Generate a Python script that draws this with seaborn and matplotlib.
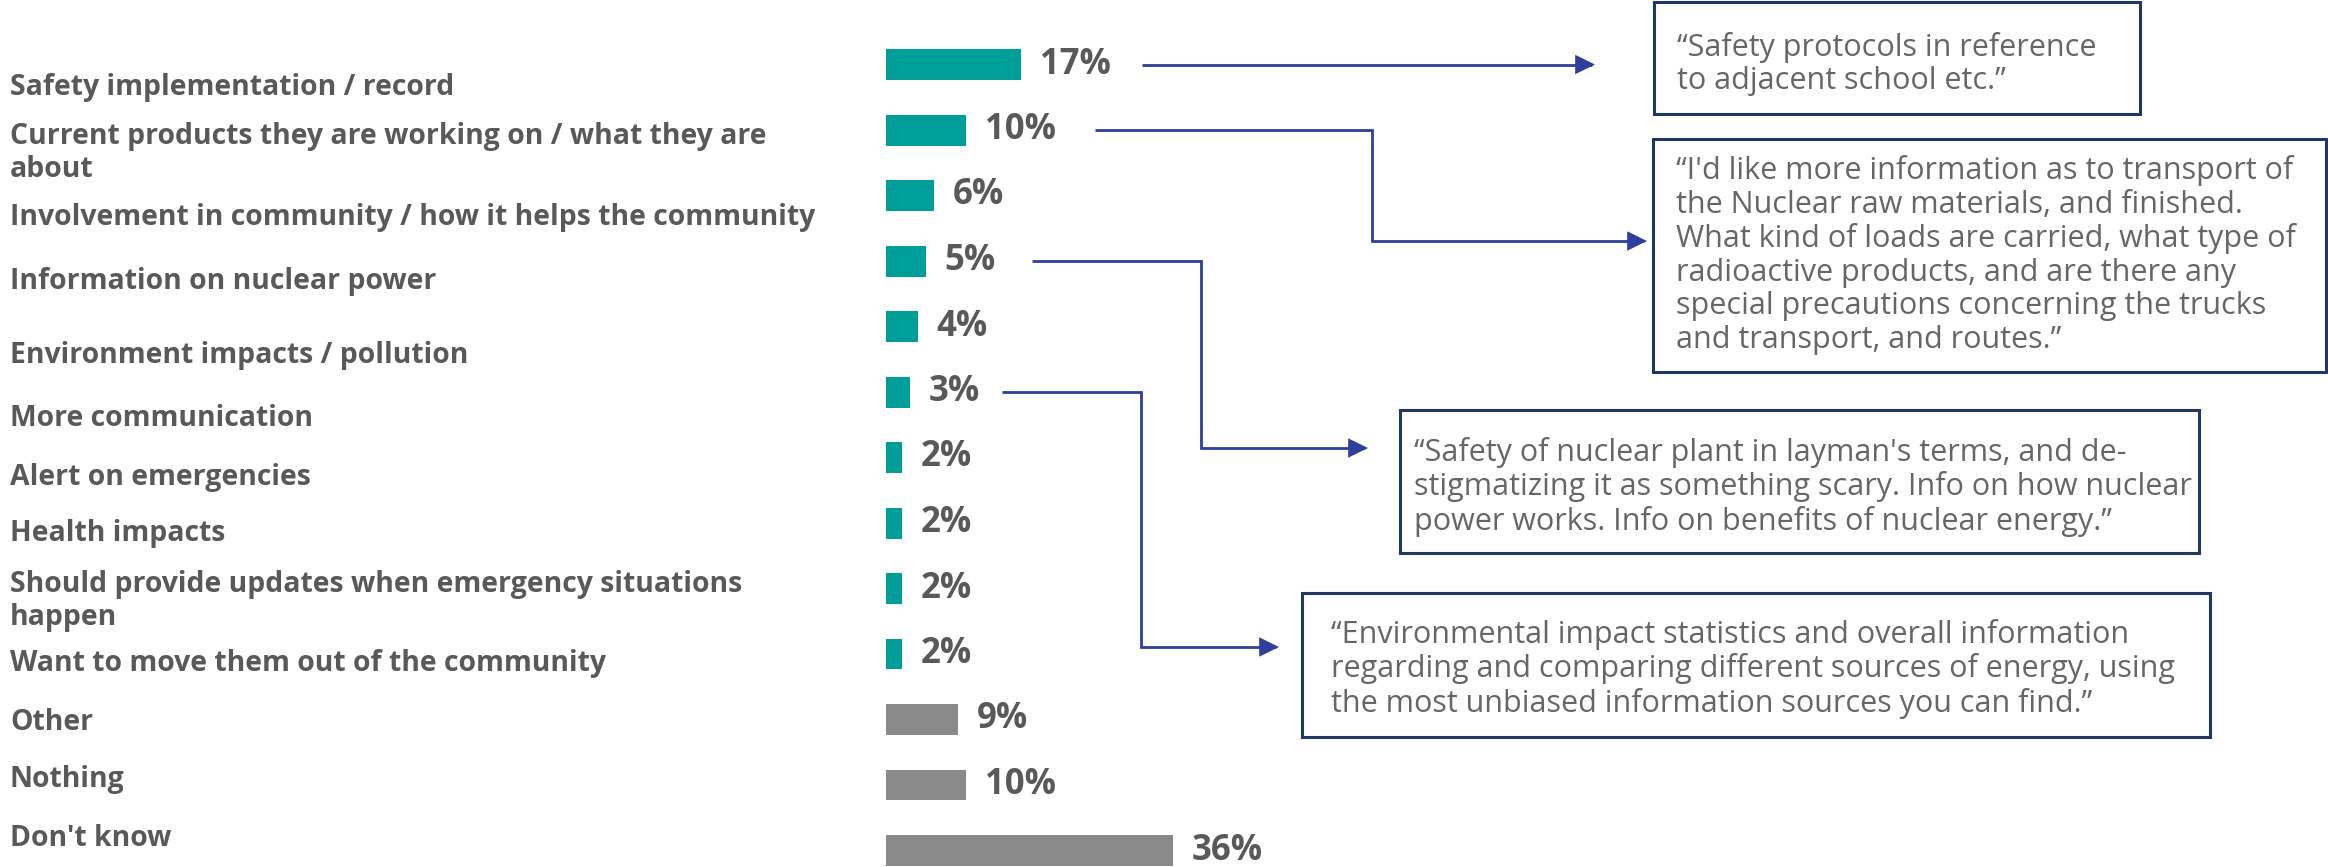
import matplotlib
matplotlib.use("Agg")
import matplotlib.pyplot as plt
from matplotlib.patches import Rectangle, FancyArrowPatch
from matplotlib.path import Path
import seaborn as sns
import pandas as pd

# ---- data -------------------------------------------------------------
categories = [
    "Safety implementation / record",
    "Current products they are working on / what they are\nabout",
    "Involvement in community / how it helps the community",
    "Information on nuclear power",
    "Environment impacts / pollution",
    "More communication",
    "Alert on emergencies",
    "Health impacts",
    "Should provide updates when emergency situations\nhappen",
    "Want to move them out of the community",
    "Other",
    "Nothing",
    "Don't know",
]
values = [17, 10, 6, 5, 4, 3, 2, 2, 2, 2, 9, 10, 36]
groups = ["topic"] * 10 + ["none"] * 3
value_labels = [f"{v}%" for v in values]

quotes = [
    "\u201cSafety protocols in reference\nto adjacent school etc.\u201d",
    "\u201cI'd like more information as to transport of\n"
    "the Nuclear raw materials, and finished.\n"
    "What kind of loads are carried, what type of\n"
    "radioactive products, and are there any\n"
    "special precautions concerning the trucks\n"
    "and transport, and routes.\u201d",
    "\u201cSafety of nuclear plant in layman's terms, and de-\n"
    "stigmatizing it as something scary. Info on how nuclear\n"
    "power works. Info on benefits of nuclear energy.\u201d",
    "\u201cEnvironmental impact statistics and overall information\n"
    "regarding and comparing different sources of energy, using\n"
    "the most unbiased information sources you can find.\u201d",
]
quote_rows = [0, 1, 3, 5]          # bar each quote is linked to

# ---- styling / layout ----------------------------------------------------
W, H = 2328, 867
TEAL, GREY = "#009E99", "#8A8A8A"
TEXT_DARK, TEXT_QUOTE = "#595959", "#666666"
LINK, BORDER = "#2E3F9C", "#1F3864"
PX_PER_PCT = 7.96
BAR_LEFT = 886
ROW0, ROW_STEP = 64.5, 65.5

label_y_px = [87, 153, 217, 282, 355, 418, 477, 534, 601, 663, 722, 780, 838]

# boxes: x0, y0, x1, y1, text left, text centre (pixels from top-left)
boxes = [
    (1654, 2, 2140, 114, 1677, 64),
    (1653, 139, 2326, 372, 1676, 255),
    (1400, 410, 2199, 553, 1414, 487),
    (1302, 593, 2210, 737, 1331, 669),
]
# link lines: start x, elbow x (None = straight), target y, tip x
links = [
    (1142, None, None, 1595),
    (1095, 1372, 241, 1647),
    (1032, 1201, 448, 1368),
    (1002, 1141, 647, 1279),
]

sns.set_theme(style="white")
plt.rcParams["font.family"] = ["Open Sans", "DejaVu Sans"]

fig = plt.figure(figsize=(W / 100, H / 100), dpi=100)

ax = fig.add_axes([BAR_LEFT / W, 0, (W - BAR_LEFT) / W, 1])
df = pd.DataFrame({"category": categories, "value": values, "group": groups})
sns.barplot(data=df, x="value", y="category", hue="group",
            palette={"topic": TEAL, "none": GREY}, dodge=False, saturation=1,
            width=31 / ROW_STEP, linewidth=0, legend=False, ax=ax, orient="h")
ax.set_xlim(0, (W - BAR_LEFT) / PX_PER_PCT)
ax.set_ylim((H - ROW0) / ROW_STEP, -ROW0 / ROW_STEP)
ax.axis("off")

for i, (v, lab) in enumerate(zip(values, value_labels)):
    ax.annotate(lab, xy=(v, i), xytext=(19, 0), textcoords="offset pixels",
                ha="left", va="center", fontsize=25, fontweight="bold",
                color=TEXT_DARK)

# overlay in pixel coordinates for labels, quote boxes and links
ov = fig.add_axes([0, 0, 1, 1], zorder=5)
ov.set_xlim(0, W)
ov.set_ylim(H, 0)
ov.axis("off")
ov.patch.set_alpha(0)

for cat, y in zip(categories, label_y_px):
    ov.text(10, y, cat, ha="left", va="center", fontsize=20.4,
            fontweight="bold", color=TEXT_DARK, linespacing=1.19)

to_ov = ov.transData.inverted()
for row, (sx, ex, ty, tip) in zip(quote_rows, links):
    _, sy = to_ov.transform(ax.transData.transform((values[row], row)))
    if ex is None:
        verts = [(sx, sy), (tip, sy)]
    else:
        verts = [(sx, sy), (ex, sy), (ex, ty), (tip, ty)]
    codes = [Path.MOVETO] + [Path.LINETO] * (len(verts) - 1)
    arr = FancyArrowPatch(path=Path(verts, codes),
                          arrowstyle="-|>,head_length=0.55,head_width=0.27",
                          mutation_scale=20, color=LINK, lw=2.0,
                          joinstyle="miter", capstyle="butt")
    ov.add_patch(arr)

for (x0, y0, x1, y1, tx, tc), q in zip(boxes, quotes):
    ov.add_patch(Rectangle((x0, y0), x1 - x0, y1 - y0, fill=False,
                           edgecolor=BORDER, lw=2.2))
    ov.text(tx, tc, q, ha="left", va="center", fontsize=22,
            color=TEXT_QUOTE, linespacing=1.15)

fig.savefig("out.png", dpi=100, facecolor="white")
